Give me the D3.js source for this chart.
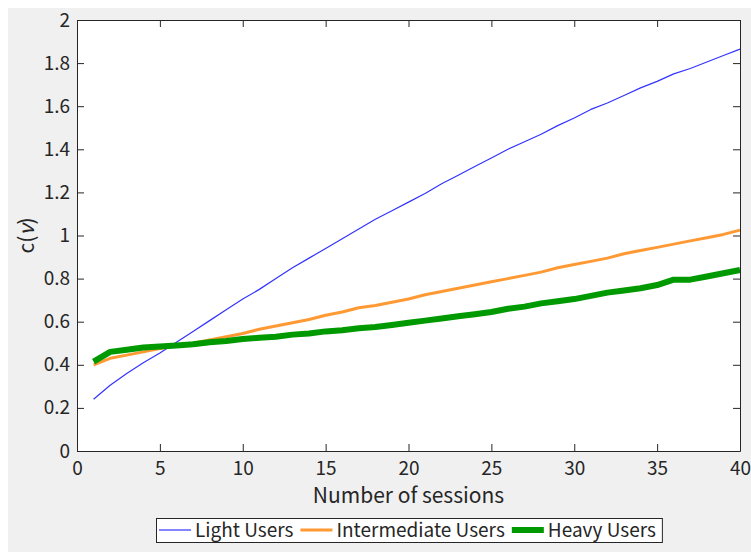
<!DOCTYPE html>
<html>
<head>
<meta charset="utf-8">
<style>
body { margin: 0; background: #fff; }
svg text { font-family: "Noto Sans CJK JP", "Noto Sans", sans-serif; fill: #262626; }
</style>
</head>
<body>
<svg width="751" height="552"></svg>
<script src="https://cdn.jsdelivr.net/npm/d3@7"></script>
<script>
// sessions 1..40
var sessions = d3.range(1, 41);
var light = [0.24,0.305,0.36,0.41,0.455,0.505,0.555,0.605,0.655,0.705,
             0.75,0.80,0.85,0.895,0.94,0.985,1.03,1.075,1.115,1.155,
             1.195,1.24,1.28,1.32,1.36,1.40,1.435,1.47,1.51,1.545,
             1.585,1.615,1.65,1.685,1.715,1.75,1.775,1.805,1.835,1.865];
var intermediate = [0.40,0.43,0.445,0.46,0.475,0.49,0.50,0.515,0.53,0.545,
                    0.565,0.58,0.595,0.61,0.63,0.645,0.665,0.675,0.69,0.705,
                    0.725,0.74,0.755,0.77,0.785,0.80,0.815,0.83,0.85,0.865,
                    0.88,0.895,0.915,0.93,0.945,0.96,0.975,0.99,1.005,1.025];
var heavy = [0.415,0.46,0.47,0.48,0.485,0.49,0.495,0.505,0.51,0.52,
             0.525,0.53,0.54,0.545,0.555,0.56,0.57,0.575,0.585,0.595,
             0.605,0.615,0.625,0.635,0.645,0.66,0.67,0.685,0.695,0.705,
             0.72,0.735,0.745,0.755,0.77,0.795,0.795,0.81,0.825,0.84];
var xTicks = [0,5,10,15,20,25,30,35,40];
var yTicks = [0,0.2,0.4,0.6,0.8,1,1.2,1.4,1.6,1.8,2];

var series = [
  {name: "Light Users", values: light, color: "#3333ff", width: 1.2},
  {name: "Intermediate Users", values: intermediate, color: "#ff9933", width: 3},
  {name: "Heavy Users", values: heavy, color: "#009900", width: 6}
];

// 8px white border round the grey figure, like the reference
var svg = d3.select("svg").append("g").attr("transform", "translate(8,8)");
var pLeft = 69, pRight = 732, pTop = 12, pBottom = 443;

svg.append("rect").attr("width", 743).attr("height", 544).attr("fill", "#f0f0f0");
svg.append("rect").attr("x", pLeft).attr("y", pTop)
  .attr("width", pRight - pLeft).attr("height", pBottom - pTop).attr("fill", "#fff");

var x = d3.scaleLinear().domain([0, 40]).range([pLeft, pRight]);
var y = d3.scaleLinear().domain([0, 2]).range([pBottom, pTop]);

var line = d3.line()
  .x(function(d, i) { return x(sessions[i]); })
  .y(function(d) { return y(d); });

series.forEach(function(s) {
  svg.append("path")
    .datum(s.values)
    .attr("d", line)
    .attr("fill", "none")
    .attr("stroke", s.color)
    .attr("stroke-width", s.width)
    .attr("stroke-linejoin", "round");
});

function styleAxis(g) {
  g.selectAll("path, line").attr("stroke", "#262626");
  g.selectAll("text").attr("font-size", 19).attr("fill", "#262626")
    .attr("font-family", "'Noto Sans CJK JP', 'Noto Sans', sans-serif");
}

svg.append("g").attr("transform", "translate(0," + pBottom + ")")
  .call(d3.axisBottom(x).tickValues(xTicks).tickSizeInner(-7).tickSizeOuter(0).tickPadding(11))
  .call(styleAxis);
svg.append("g").attr("transform", "translate(0," + pTop + ")")
  .call(d3.axisTop(x).tickValues(xTicks).tickSizeInner(-7).tickSizeOuter(0).tickFormat(""))
  .call(styleAxis);
svg.append("g").attr("transform", "translate(" + pLeft + ",0)")
  .call(d3.axisLeft(y).tickValues(yTicks).tickSizeInner(-7).tickSizeOuter(0).tickPadding(7)
    .tickFormat(function(d) { return d3.format("")(+d.toFixed(1)); }))
  .call(styleAxis);
svg.append("g").attr("transform", "translate(" + pRight + ",0)")
  .call(d3.axisRight(y).tickValues(yTicks).tickSizeInner(-7).tickSizeOuter(0).tickFormat(""))
  .call(styleAxis);

// axis labels
svg.append("text")
  .attr("x", (pLeft + pRight) / 2).attr("y", 495)
  .attr("text-anchor", "middle").attr("font-size", 21)
  .text("Number of sessions");

var yl = svg.append("text")
  .attr("transform", "translate(19," + (pTop + pBottom) / 2 + ") rotate(-90)")
  .attr("text-anchor", "middle").attr("dy", "0.35em").attr("font-size", 21);
yl.append("tspan").text("c(");
yl.append("tspan").attr("font-style", "italic").text("\u03bd");
yl.append("tspan").text(")");

// legend
var legend = svg.append("g");
var box = legend.append("rect").attr("fill", "#fff").attr("stroke", "#262626").attr("stroke-width", 1);
var lx = 0;
series.forEach(function(s) {
  var g = legend.append("g").attr("transform", "translate(" + lx + ",0)");
  g.append("line").attr("x1", 3).attr("x2", 35).attr("y1", 0).attr("y2", 0)
    .attr("stroke", s.color).attr("stroke-width", s.width);
  var t = g.append("text").attr("x", 39).attr("y", 0).attr("dy", "0.35em")
    .attr("font-size", 19).text(s.name);
  lx += 39 + t.node().getComputedTextLength() + 4;
});
var lw = lx + 2;
var lx0 = Math.round((pLeft + pRight) / 2 - lw / 2);
legend.attr("transform", "translate(" + lx0 + ",522)");
box.attr("x", 0.5).attr("y", -11.5).attr("width", lw).attr("height", 24);
</script>
</body>
</html>
